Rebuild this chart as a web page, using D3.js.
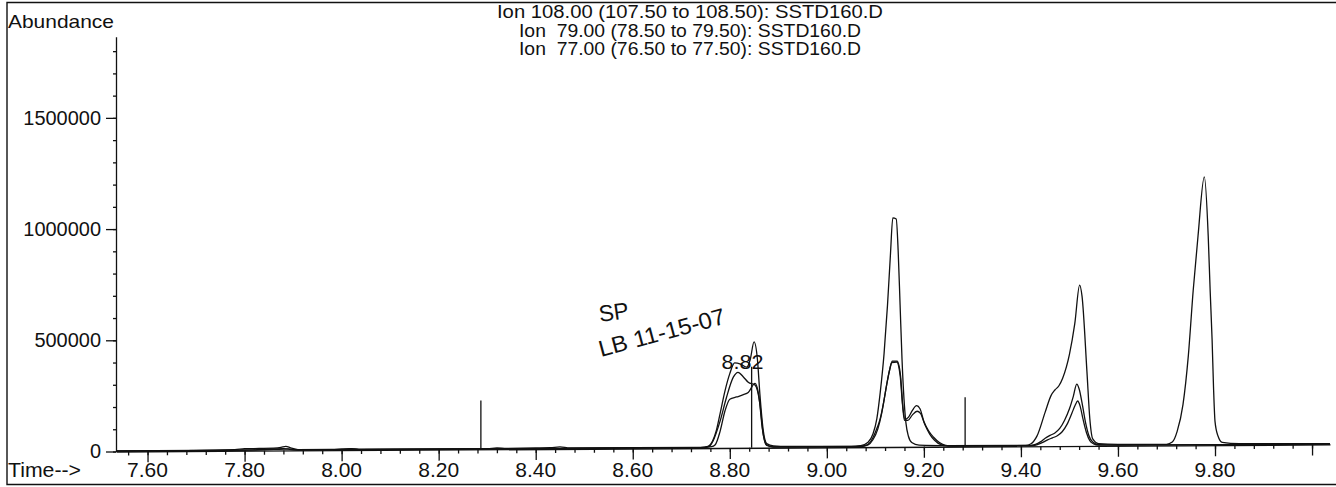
<!DOCTYPE html>
<html>
<head>
<meta charset="utf-8">
<script src="https://cdn.jsdelivr.net/npm/d3@7"></script>
<style>
  html, body { margin: 0; padding: 0; background: #fff; }
  svg { display: block; }
  text { font-family: "Liberation Sans", Arial, sans-serif; fill: #111; }
</style>
</head>
<body>
<svg id="chart" width="1336" height="487"></svg>
<script>
// Extracted ion chromatograms: [retention time (min), abundance]
const ion108 = [
  [7.535, 3000], [7.70, 3000], [7.78, 5000], [7.80, 9000], [7.83, 10000], [7.86, 11000],
  [7.875, 14000], [7.885, 19000], [7.895, 12000], [7.91, 4000], [7.98, 4000], [8.00, 6000],
  [8.02, 7000], [8.04, 4000], [8.30, 3000], [8.32, 6000], [8.34, 4000], [8.40, 5000],
  [8.43, 6000], [8.45, 9000], [8.47, 4000], [8.74, 3000], [8.755, 8000], [8.765, 34000],
  [8.772, 77000], [8.78, 155000], [8.79, 256000], [8.80, 334000], [8.81, 382000],
  [8.822, 377000], [8.835, 363000], [8.842, 396000], [8.85, 476000], [8.857, 396000],
  [8.862, 242000], [8.869, 77000], [8.876, 19000], [8.89, 8000], [8.92, 5000], [9.05, 4000],
  [9.07, 7000], [9.085, 22000], [9.095, 59000], [9.103, 127000], [9.11, 245000],
  [9.118, 421000], [9.125, 637000], [9.131, 862000], [9.136, 1030000], [9.143, 1025000],
  [9.147, 882000], [9.151, 637000], [9.155, 392000], [9.159, 216000], [9.163, 108000],
  [9.168, 49000], [9.175, 20000], [9.19, 8000], [9.25, 5000], [9.41, 4000], [9.42, 10000],
  [9.433, 45000], [9.45, 153000], [9.462, 227000], [9.47, 252000], [9.478, 270000],
  [9.486, 305000], [9.50, 412000], [9.511, 550000], [9.521, 723000], [9.526, 672000],
  [9.536, 336000], [9.542, 122000], [9.548, 31000], [9.56, 10000], [9.60, 6000],
  [9.70, 5000], [9.712, 15000], [9.722, 63000], [9.734, 183000], [9.745, 402000],
  [9.755, 695000], [9.765, 941000], [9.778, 1206000], [9.786, 941000], [9.79, 695000],
  [9.794, 475000], [9.797, 257000], [9.80, 107000], [9.806, 42000], [9.815, 12000],
  [9.85, 6000], [10.037, 4000]
];

const ion79 = [
  [7.535, 2000], [7.80, 3000], [7.84, 6000], [7.88, 9000], [7.90, 3000], [8.00, 3000],
  [8.02, 5000], [8.04, 2000], [8.74, 2000], [8.758, 8000], [8.765, 30000], [8.78, 121000],
  [8.793, 226000], [8.807, 317000], [8.817, 340000], [8.828, 319000], [8.838, 295000],
  [8.852, 282000], [8.862, 198000], [8.869, 60000], [8.876, 10000], [8.89, 4000],
  [9.06, 3000], [9.08, 8000], [9.09, 24000], [9.10, 67000], [9.11, 128000], [9.117, 200000],
  [9.123, 276000], [9.13, 352000], [9.135, 386000], [9.145, 386000], [9.152, 318000],
  [9.157, 173000], [9.161, 124000], [9.168, 133000], [9.176, 163000], [9.185, 185000],
  [9.192, 171000], [9.20, 114000], [9.21, 71000], [9.22, 43000], [9.232, 19000],
  [9.245, 6000], [9.26, 3000], [9.42, 3000], [9.43, 8000], [9.44, 19000], [9.45, 35000],
  [9.46, 48000], [9.47, 59000], [9.48, 79000], [9.49, 116000], [9.50, 167000],
  [9.508, 223000], [9.515, 278000], [9.52, 256000], [9.527, 181000], [9.533, 107000],
  [9.54, 47000], [9.548, 17000], [9.56, 5000], [9.60, 3000], [10.037, 2000]
];

const ion77 = [
  [7.535, 2000], [7.82, 3000], [7.86, 5000], [7.89, 7000], [7.91, 2000], [8.74, 2000],
  [8.762, 6000], [8.77, 15000], [8.78, 75000], [8.79, 166000], [8.80, 219000],
  [8.814, 229000], [8.828, 239000], [8.838, 249000], [8.852, 290000], [8.86, 232000],
  [8.867, 87000], [8.875, 15000], [8.89, 3000], [9.07, 3000], [9.085, 10000],
  [9.095, 33000], [9.105, 81000], [9.113, 152000], [9.12, 238000], [9.128, 333000],
  [9.134, 380000], [9.144, 382000], [9.151, 323000], [9.156, 190000], [9.16, 119000],
  [9.167, 119000], [9.176, 143000], [9.186, 160000], [9.193, 150000], [9.202, 100000],
  [9.212, 57000], [9.222, 29000], [9.235, 9000], [9.25, 3000], [9.425, 3000],
  [9.435, 8000], [9.445, 17000], [9.455, 28000], [9.465, 37000], [9.475, 46000],
  [9.485, 64000], [9.495, 97000], [9.505, 147000], [9.512, 184000], [9.517, 202000],
  [9.522, 179000], [9.528, 120000], [9.535, 60000], [9.542, 23000], [9.55, 9000],
  [9.56, 3000], [10.037, 2000]
];

// Integration event markers: time and marker height
const markerTimes = [8.287, 8.845, 9.285];
const markerHeights = [220000, 365000, 222000];

// Retention-time label of the integrated peak
const peakLabelTimes = [8.82];
const peakLabelTexts = ["8.82"];

const titleLines = [
  "Ion 108.00 (107.50 to 108.50): SSTD160.D",
  "Ion  79.00 (78.50 to 79.50): SSTD160.D",
  "Ion  77.00 (76.50 to 77.50): SSTD160.D"
];

const xMajorTicks = [7.6, 7.8, 8.0, 8.2, 8.4, 8.6, 8.8, 9.0, 9.2, 9.4, 9.6, 9.8, 10.0];
const xTickLabels = ["7.60", "7.80", "8.00", "8.20", "8.40", "8.60", "8.80", "9.00", "9.20", "9.40", "9.60", "9.80", ""];
const yMajorTicks = [0, 500000, 1000000, 1500000];
const yTickLabels = ["0", "500000", "1000000", "1500000"];

const handNotes = ["SP", "LB 11-15-07"];

// ---------------------------------------------------------------------------
const svg = d3.select("#chart");
const ink = "#111";
const font = '"Liberation Sans", Arial, sans-serif';

const x = d3.scaleLinear().domain([7.535, 10.037]).range([116, 1330]);
const y = d3.scaleLinear().domain([0, 1865000]).range([451.5, 36.7]);
const x0 = x.range()[0], y0 = y(0);

// Outer printout frame
svg.append("path")
  .attr("d", "M1336,2.5 H7 V484.5 H1336")
  .attr("fill", "none").attr("stroke", ink).attr("stroke-width", 1.4);

// Minor tick positions
const xMinor = d3.range(0, 63).map(i => +(7.56 + i * 0.04).toFixed(2)).filter(t => t <= 10.037);
const yMinor = d3.range(0, 19).map(i => i * 100000);

// The plotted area of the printout runs very slightly uphill to the right
const plot = svg.append("g")
  .attr("transform", `translate(${x0},${y0}) skewY(-0.332) translate(${-x0},${-y0})`);

// X axis line and ticks
const gx = plot.append("g").attr("transform", `translate(0,${y0})`);
gx.call(d3.axisBottom(x).tickValues(xMinor).tickSize(4).tickSizeOuter(0).tickFormat(""));
gx.append("g").call(d3.axisBottom(x).tickValues(xMajorTicks).tickSize(11).tickSizeOuter(0).tickFormat(""))
  .call(g => g.select(".domain").remove());

// X tick labels
svg.append("g").selectAll("text").data(xMajorTicks).join("text")
  .attr("x", d => x(d)).attr("y", 477).attr("text-anchor", "middle")
  .attr("font-size", 21).attr("font-family", font)
  .text((d, i) => xTickLabels[i]);

// Y axis
const gy = svg.append("g").attr("transform", `translate(${x0},0)`);
gy.call(d3.axisLeft(y).tickValues(yMinor).tickSize(3).tickSizeOuter(0).tickFormat(""));
gy.append("g").call(d3.axisLeft(y).tickValues(yMajorTicks).tickSize(10).tickSizeOuter(0)
    .tickPadding(5).tickFormat((d, i) => yTickLabels[i]))
  .call(g => g.select(".domain").remove());
gy.selectAll("text").attr("font-size", 20).attr("fill", ink).attr("font-family", font)
  .attr("textLength", function () { return this.textContent.length * 11.1; })
  .attr("lengthAdjust", "spacingAndGlyphs");

svg.selectAll(".domain, .tick line").attr("stroke", ink).attr("stroke-width", 1.3);

// Axis captions
svg.append("text").attr("x", 8).attr("y", 28).attr("font-size", 18.5)
  .attr("textLength", 106).attr("lengthAdjust", "spacingAndGlyphs").text("Abundance");
svg.append("text").attr("x", 8).attr("y", 477).attr("font-size", 21)
  .attr("textLength", 73).attr("lengthAdjust", "spacingAndGlyphs").text("Time-->");

// Header lines
svg.append("g").selectAll("text").data(titleLines).join("text")
  .attr("x", 690).attr("y", (d, i) => 18 + i * 18.5)
  .attr("text-anchor", "middle").attr("font-size", 17.5)
  .attr("xml:space", "preserve").style("white-space", "pre")
  .attr("textLength", (d, i) => i === 0 ? 386 : 342)
  .attr("lengthAdjust", "spacingAndGlyphs")
  .text(d => d);

// Integration markers
plot.append("g").selectAll("line").data(markerTimes).join("line")
  .attr("x1", d => x(d)).attr("x2", d => x(d))
  .attr("y1", y0).attr("y2", (d, i) => y(markerHeights[i]))
  .attr("stroke", ink).attr("stroke-width", 1.3);

// Ion traces
const line = d3.line().x(d => x(d[0])).y(d => y(d[1])).curve(d3.curveMonotoneX);
plot.append("g").selectAll("path").data([ion108, ion79, ion77]).join("path")
  .attr("d", line).attr("fill", "none").attr("stroke", ink)
  .attr("stroke-width", 1.3).attr("stroke-linejoin", "round");

// Peak retention-time label
svg.append("g").selectAll("text").data(peakLabelTimes).join("text")
  .attr("x", d => x(d) + 3).attr("y", 369).attr("text-anchor", "middle")
  .attr("font-size", 21).attr("textLength", 42).attr("lengthAdjust", "spacingAndGlyphs")
  .text((d, i) => peakLabelTexts[i]);

// Handwritten sample note
const notes = svg.append("g").attr("font-family", '"DejaVu Sans", sans-serif')
  .attr("font-weight", 300);
notes.append("text").attr("transform", "translate(600,322) rotate(-8)")
  .attr("font-size", 23).attr("textLength", 30).attr("lengthAdjust", "spacingAndGlyphs")
  .text(handNotes[0]);
notes.append("text").attr("transform", "translate(601,357) rotate(-15)")
  .attr("font-size", 23).attr("textLength", 130).attr("lengthAdjust", "spacingAndGlyphs")
  .text(handNotes[1]);
</script>
</body>
</html>
